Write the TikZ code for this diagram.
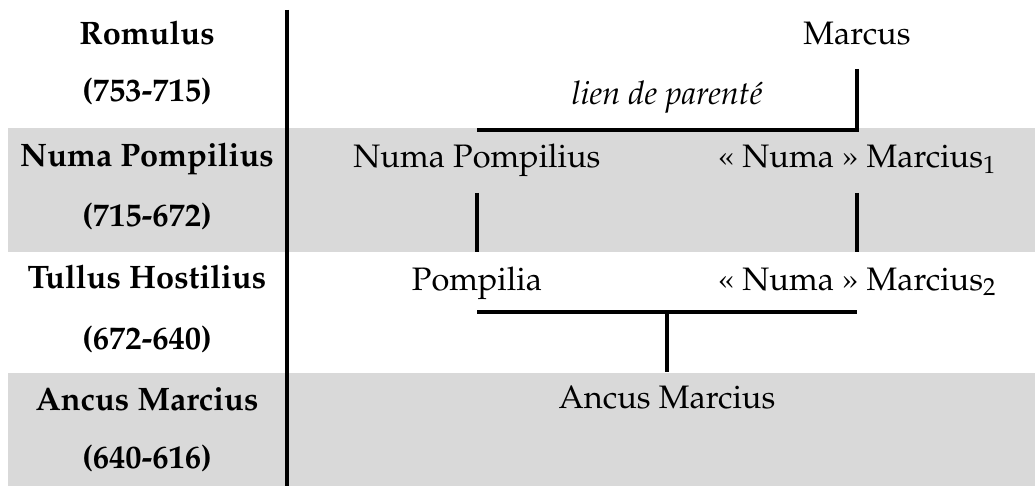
\documentclass[tikz,border=0pt]{standalone}
\usepackage[T1]{fontenc}
\usepackage{mathpazo}
\definecolor{band}{HTML}{D9D9D9}
\begin{document}
\begin{tikzpicture}[x=1pt,y=-1pt,
  lbl/.style={anchor=base,inner sep=0pt,font=\fontsize{32.5}{39}\selectfont},
  king/.style={anchor=base,inner sep=0pt,font=\fontsize{32.5}{39}\selectfont\bfseries},
  rel/.style={anchor=base,inner sep=0pt,font=\fontsize{32.5}{39}\selectfont\itshape},
  link/.style={line width=3.3pt},
  bandfill/.style={fill=band}]
\useasboundingbox (0,0) rectangle (1035,486);
% grey bands
\fill[bandfill] (8,128) rectangle (1035,252);
\fill[bandfill] (8,373) rectangle (1035,486);
% divider
\coordinate (dtop) at (287,10);
\coordinate (dbot) at (287,486);
\draw[link] (dtop) -- (dbot);
% left column
\node[king] (k1) at (147,45) {Romulus};
\node[king] (k1d) at (147,102) {(753-715)};
\node[king] (k2) at (147,167) {Numa Pompilius};
\node[king] (k2d) at (147,226) {(715-672)};
\node[king] (k3) at (147,288) {Tullus Hostilius};
\node[king] (k3d) at (147,349) {(672-640)};
\node[king] (k4) at (147,410) {Ancus Marcius};
\node[king] (k4d) at (147,468) {(640-616)};
% family tree
\node[lbl] (marcus) at (857,45) {Marcus};
\node[rel] (lien) at (667,105) {lien de parent\'e};
\node[lbl] (numa) at (477,168) {Numa Pompilius};
\node[lbl] (nm1) at (857,168) {\guillemotleft\ Numa \guillemotright\ Marcius\textsubscript{1}};
\node[lbl] (pompilia) at (477,290) {Pompilia};
\node[lbl] (nm2) at (857,290) {\guillemotleft\ Numa \guillemotright\ Marcius\textsubscript{2}};
\node[lbl] (ancus) at (667,408) {Ancus Marcius};
% connectors
\draw[link] ([yshift=-24pt]marcus.base) |- ([yshift=38pt]numa.base);
\draw[link] ([yshift=-25pt]numa.base) -- ([yshift=38pt]pompilia.base);
\draw[link] ([yshift=-25pt]nm1.base) -- ([yshift=38pt]nm2.base);
\draw[link] ([yshift=-22pt]pompilia.base) -- ([yshift=-22pt]nm2.base);
\coordinate (mid) at (ancus.base |- pompilia.base);
\draw[link] ([yshift=-22pt]mid) -- ([yshift=36pt]ancus.base);
\end{tikzpicture}
\end{document}
